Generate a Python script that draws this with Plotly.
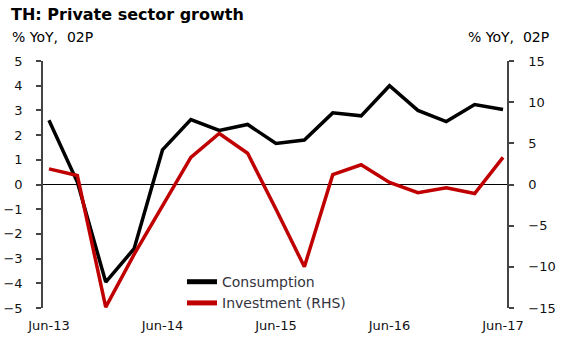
import plotly.graph_objects as go

quarters = ["Jun-13", "Sep-13", "Dec-13", "Mar-14", "Jun-14", "Sep-14", "Dec-14", "Mar-15",
            "Jun-15", "Sep-15", "Dec-15", "Mar-16", "Jun-16", "Sep-16", "Dec-16", "Mar-17", "Jun-17"]
consumption = [2.6, 0.1, -3.95, -2.6, 1.4, 2.63, 2.19, 2.43, 1.66, 1.8, 2.9, 2.78, 4.0, 3.0, 2.55, 3.24, 3.04]
investment = [1.9, 1.1, -14.9, -8.5, -2.6, 3.3, 6.2, 3.8, -3.0, -10.0, 1.2, 2.4, 0.25, -1.0, -0.4, -1.1, 3.3]
tick_labels = ["Jun-13", "Jun-14", "Jun-15", "Jun-16", "Jun-17"]

FONT = "DejaVu Sans"
W, H = 567, 346
L, R, T, B = 43, 60, 61, 38
PW, PH = W - L - R, H - T - B

fig = go.Figure()
fig.add_trace(go.Scatter(x=quarters, y=consumption, name="Consumption", mode="lines",
                         line=dict(color="#000000", width=3.5), yaxis="y"))
fig.add_trace(go.Scatter(x=quarters, y=investment, name="Investment (RHS)", mode="lines",
                         line=dict(color="#C00000", width=3.5), yaxis="y2"))

fig.update_layout(
    width=W, height=H,
    margin=dict(l=L, r=R, t=T, b=B, autoexpand=False),
    paper_bgcolor="white", plot_bgcolor="white",
    font=dict(family=FONT, size=13, color="#111111"),
    showlegend=True,
    legend=dict(x=(182 - L) / PW, xanchor="left", y=-0.045, yanchor="bottom",
                bgcolor="rgba(0,0,0,0)", font=dict(size=14, color="#333340"),
                tracegroupgap=0, itemsizing="constant"),
    xaxis=dict(type="category", categoryorder="array", categoryarray=quarters, automargin=False,
               range=[-0.21, 16.14], tickmode="array", tickvals=tick_labels, ticktext=tick_labels,
               showgrid=False, zeroline=False, showline=False, ticks="", ticklabelstandoff=8),
    yaxis=dict(range=[-5, 5], dtick=1, showgrid=False, zeroline=True, zerolinecolor="#000000",
               automargin=False,
               zerolinewidth=1, showline=True, linecolor="#444444", linewidth=1.5, ticks="outside",
               ticklen=5, tickcolor="#444444", tickwidth=1.5, ticklabelstandoff=11),
    yaxis2=dict(range=[-15, 15], dtick=5, overlaying="y", side="right", showgrid=False,
                automargin=False,
                zeroline=False, showline=True, linecolor="#444444", linewidth=1.5, ticks="outside",
                ticklen=5, tickcolor="#444444", tickwidth=1.5, ticklabelstandoff=12),
    annotations=[
        dict(text="<b>TH: Private sector growth</b>", xref="paper", yref="paper",
             x=(9 - L) / PW, y=1 + (T - 14) / PH, xanchor="left", yanchor="middle",
             showarrow=False, font=dict(size=16, color="#000000")),
        dict(text="% YoY,  02P", xref="paper", yref="paper",
             x=(10 - L) / PW, y=1 + (T - 37) / PH, xanchor="left", yanchor="middle",
             showarrow=False, font=dict(size=14, color="#000000")),
        dict(text="% YoY,  02P", xref="paper", yref="paper",
             x=1 + (551 - (W - R)) / PW, y=1 + (T - 37) / PH, xanchor="right", yanchor="middle",
             showarrow=False, font=dict(size=14, color="#000000")),
    ],
)

fig.write_html("out.html")
